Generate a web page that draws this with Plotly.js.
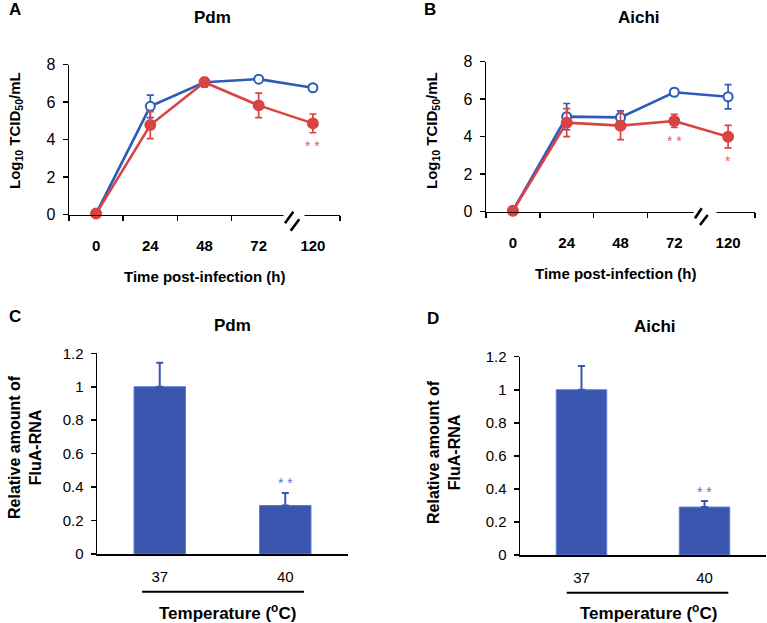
<!DOCTYPE html>
<html>
<head>
<meta charset="utf-8">
<script src="https://cdn.plot.ly/plotly-3.0.1.min.js"></script>
<style>html,body{margin:0;padding:0;background:#fff;}#chart{width:767px;height:623px;}</style>
</head>
<body>
<div id="chart"></div>
<script>
// ---- data ----
const timeLabels = ["0", "24", "48", "72", "120"];
const pdm37 = [0.05, 5.77, 7.05, 7.22, 6.76];
const pdm37Err = [0.05, 0.6, 0.15, 0.12, 0.1];
const pdm40 = [0.05, 4.77, 7.05, 5.82, 4.86];
const pdm40Err = [0.05, 0.72, 0.25, 0.65, 0.5];
const aichi37 = [0.05, 5.07, 5.03, 6.37, 6.13];
const aichi37Err = [0.05, 0.7, 0.35, 0.2, 0.65];
const aichi40 = [0.05, 4.75, 4.59, 4.84, 4.0];
const aichi40Err = [0.05, 0.75, 0.75, 0.35, 0.6];
const tempLabels = ["37", "40"];
const pdmRNA = [1.0, 0.29];
const pdmRNAErr = [0.144, 0.075];
const aichiRNA = [1.0, 0.29];
const aichiRNAErr = [0.144, 0.037];

const BLUE = '#2F5BB8', RED = '#D84343', BAR = '#3A56AF';
const FONT = '"Liberation Sans", Arial, sans-serif';
const W = 767, H = 623;
const px = x => x / W, py = y => 1 - y / H;

function lineTrace(y, err, color, open, xa, ya) {
  return {
    type: 'scatter', mode: 'lines+markers', x: timeLabels, y: y,
    xaxis: xa, yaxis: ya, cliponaxis: false,
    line: {color: color, width: 2.6},
    marker: {size: open ? 9 : 10, color: open ? '#fff' : color, line: {color: color, width: 2}},
    error_y: {type: 'data', array: err, visible: true, color: color, thickness: 1.7, width: 3.5},
    showlegend: false, hoverinfo: 'x+y'
  };
}
function barTrace(y, err, xa, ya) {
  return {
    type: 'bar', x: tempLabels, y: y, xaxis: xa, yaxis: ya, width: 0.41,
    marker: {color: BAR, line: {color: '#5B7BD5', width: 1}},
    error_y: {type: 'data', symmetric: false, array: err, arrayminus: [0, 0], visible: true, color: BAR, thickness: 2, width: 3.5},
    showlegend: false
  };
}

const data = [
  lineTrace(pdm37, pdm37Err, BLUE, true, 'x', 'y'),
  lineTrace(pdm40, pdm40Err, RED, false, 'x', 'y'),
  lineTrace(aichi37, aichi37Err, BLUE, true, 'x2', 'y2'),
  lineTrace(aichi40, aichi40Err, RED, false, 'x2', 'y2'),
  barTrace(pdmRNA, pdmRNAErr, 'x3', 'y3'),
  barTrace(aichiRNA, aichiRNAErr, 'x4', 'y4')
];

const lineX = (dom, anchor) => ({
  domain: dom, anchor: anchor, type: 'category', range: [-0.5, 4.5],
  showline: true, linecolor: '#000', linewidth: 1.5, showgrid: false, zeroline: false,
  ticks: 'outside', tickson: 'boundaries', ticklen: 5, tickcolor: '#000', tickwidth: 1.5,
  ticklabelstandoff: 17, tickfont: {family: FONT, size: 15, color: '#000', weight: 'bold'}
});
const lineY = (dom, anchor) => ({
  domain: dom, anchor: anchor, range: [0, 8], dtick: 2,
  showline: true, linecolor: '#000', linewidth: 1.5, showgrid: false, zeroline: false,
  ticks: 'outside', ticklen: 5, tickcolor: '#000', tickwidth: 1.5,
  ticklabelstandoff: 4, tickfont: {family: FONT, size: 16, color: '#000'}
});
const barX = (dom, anchor) => ({
  domain: dom, anchor: anchor, type: 'category', range: [-0.5, 1.5],
  showline: true, linecolor: '#000', linewidth: 2, showgrid: false, zeroline: false,
  ticks: '', ticklabelstandoff: 8, tickfont: {family: FONT, size: 15, color: '#000'}
});
const barY = (dom, anchor) => ({
  domain: dom, anchor: anchor, range: [0, 1.2], dtick: 0.2,
  showline: true, linecolor: '#000', linewidth: 1.5, showgrid: false, zeroline: false,
  ticks: 'outside', ticklen: 5, tickcolor: '#000', tickwidth: 1.5,
  ticklabelstandoff: 4, tickfont: {family: FONT, size: 15, color: '#000'}
});

function ann(text, x, y, size, opts) {
  return Object.assign({text: text, xref: 'paper', yref: 'paper', x: px(x), y: py(y),
    xanchor: 'center', yanchor: 'middle', showarrow: false,
    font: {family: FONT, size: size, color: '#000', weight: 'bold'}}, opts || {});
}
// category index positions for significance marks
function star(text, xa, ya, xi, y, color) {
  return {text: text, xref: xa, yref: ya, x: xi, y: y, showarrow: false,
    xanchor: 'center', yanchor: 'middle', font: {family: FONT, size: 14, color: color}};
}

const annotations = [
  ann('A', 15, 9, 17), ann('B', 430, 9, 17), ann('C', 15, 316, 17), ann('D', 433, 318, 17),
  ann('Pdm', 212, 17, 17), ann('Aichi', 639, 17, 17), ann('Pdm', 232, 325, 17), ann('Aichi', 655, 326, 17),
  ann('Log<sub>10</sub> TCID<sub>50</sub>/mL', 15, 131, 15, {textangle: -90}),
  ann('Log<sub>10</sub> TCID<sub>50</sub>/mL', 432, 131, 15, {textangle: -90}),
  ann('Relative amount of<br>FluA-RNA', 25, 447, 16, {textangle: -90}),
  ann('Relative amount of<br>FluA-RNA', 444, 452, 16, {textangle: -90}),
  ann('Time post-infection (h)', 205, 276, 15),
  ann('Time post-infection (h)', 615, 273, 15),
  ann('Temperature (<sup>o</sup>C)', 228, 612, 17),
  ann('Temperature (<sup>o</sup>C)', 648, 612, 17),
  star('* *', 'x', 'y', 4, 3.65, '#E06666'),
  star('* *', 'x2', 'y2', 3, 3.77, '#E06666'),
  star('*', 'x2', 'y2', 4, 2.7, '#E06666'),
  star('* *', 'x3', 'y3', 1, 0.425, '#4F7BD3'),
  star('* *', 'x4', 'y4', 1, 0.38, '#4F7BD3')
];

// axis-break decorations (pixel positions converted to paper)
function pline(x0, y0, x1, y1, w) {
  return {type: 'line', xref: 'paper', yref: 'paper', x0: px(x0), y0: py(y0), x1: px(x1), y1: py(y1), line: {color: '#000', width: w}};
}
function prect(x0, y0, x1, y1) {
  return {type: 'rect', xref: 'paper', yref: 'paper', x0: px(x0), y0: py(y0), x1: px(x1), y1: py(y1), fillcolor: '#fff', line: {width: 0}, layer: 'above'};
}
const shapes = [
  prect(283.5, 208, 304.5, 222),
  pline(285, 223.3, 293.3, 211.7, 2.6),
  pline(290.7, 230.7, 299.3, 219.3, 2.6),
  prect(693.5, 205, 716.5, 219),
  pline(695, 218.3, 701.7, 208.3, 2.6),
  pline(700, 225, 707.7, 215, 2.6),
  pline(142, 591.7, 304, 591.7, 2),
  pline(566.7, 592.7, 728.3, 592.7, 2)
];

const layout = {
  width: W, height: H, margin: {l: 0, r: 0, t: 0, b: 0},
  paper_bgcolor: '#fff', plot_bgcolor: 'rgba(0,0,0,0)',
  font: {family: FONT, color: '#000'},
  xaxis: lineX([px(69), px(340)], 'y'),
  yaxis: lineY([py(214.5), py(64.5)], 'x'),
  xaxis2: lineX([px(486), px(755)], 'y2'),
  yaxis2: lineY([py(211.7), py(61.7)], 'x2'),
  xaxis3: barX([px(97), px(348)], 'y3'),
  yaxis3: barY([py(554), py(353.3)], 'x3'),
  xaxis4: barX([px(520), px(766)], 'y4'),
  yaxis4: barY([py(555), py(356.7)], 'x4'),
  annotations: annotations, shapes: shapes
};

Plotly.newPlot('chart', data, layout, {displayModeBar: false, staticPlot: true});
</script>
</body>
</html>
